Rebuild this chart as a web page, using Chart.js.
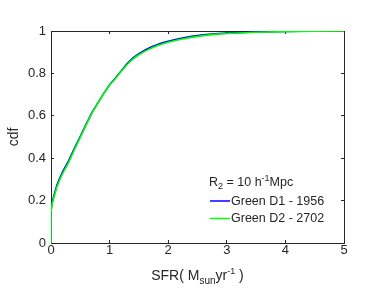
<!DOCTYPE html>
<html>
<head>
<meta charset="utf-8">
<script src="https://cdn.jsdelivr.net/npm/chart.js@4"></script>
<style>
  html, body { margin: 0; padding: 0; background: #fff; }
  #grafica { display: block; }
</style>
</head>
<body>
<canvas id="grafica" width="382" height="305"></canvas>
<script>
"use strict";

// SFR values (x) and cdf values
const sfrD1 = [0, 0, 0.02, 0.05, 0.1, 0.15, 0.2, 0.3, 0.4, 0.5, 0.6, 0.7, 0.8, 0.9, 1.0, 1.1, 1.2, 1.3, 1.4, 1.5, 1.6, 1.7, 1.8, 1.9, 2.0, 2.2, 2.4, 2.6, 2.8, 3.0, 3.5, 4.0, 4.56];
const cdfD1 = [0, 0.152, 0.192, 0.223, 0.272, 0.306, 0.337, 0.387, 0.447, 0.503, 0.561, 0.616, 0.661, 0.706, 0.746, 0.778, 0.813, 0.846, 0.873, 0.893, 0.909, 0.923, 0.934, 0.944, 0.952, 0.965, 0.975, 0.982, 0.987, 0.99, 0.995, 0.998, 1.0];

const sfrD2 = [0, 0, 0.02, 0.05, 0.1, 0.15, 0.2, 0.3, 0.4, 0.5, 0.6, 0.7, 0.8, 0.9, 1.0, 1.1, 1.2, 1.3, 1.4, 1.5, 1.6, 1.7, 1.8, 1.9, 2.0, 2.2, 2.4, 2.6, 2.8, 3.0, 3.5, 4.0, 4.5, 5.0];
const cdfD2 = [0, 0.145, 0.185, 0.215, 0.263, 0.298, 0.329, 0.379, 0.44, 0.498, 0.557, 0.613, 0.66, 0.705, 0.745, 0.776, 0.81, 0.842, 0.868, 0.888, 0.904, 0.918, 0.929, 0.939, 0.947, 0.96, 0.97, 0.978, 0.984, 0.988, 0.994, 0.997, 0.999, 1.0];

const nombres = ["Green D1 - 1956", "Green D2 - 2702"];
const colores = ["#0000ff", "#00ff00"];
const xTicks = [0, 1, 2, 3, 4, 5];
const yTicks = [0, 0.2, 0.4, 0.6, 0.8, 1];

const puntos = (xs, ys) => xs.map((x, i) => ({ x: x, y: ys[i] }));

const FUENTE = '"Liberation Sans", Arial, sans-serif';
const GRIS = "#262626";

function dibujarPartes(ctx, partes, x, y, centrado) {
    let ancho = 0;
    partes.forEach((p) => {
        ctx.font = p.s + "px " + FUENTE;
        ancho += ctx.measureText(p.t).width;
    });
    let cx = centrado ? x - ancho / 2 : x;
    ctx.textAlign = "left";
    ctx.textBaseline = "alphabetic";
    partes.forEach((p) => {
        ctx.font = p.s + "px " + FUENTE;
        ctx.fillText(p.t, cx, y + p.dy);
        cx += ctx.measureText(p.t).width;
    });
}

// axis titles and legend in MATLAB style
const textosMatlab = {
    id: "textosMatlab",
    afterDraw(chart) {
        const ctx = chart.ctx;
        const a = chart.chartArea;
        ctx.save();
        ctx.fillStyle = GRIS;

        ctx.save();
        ctx.translate(18, (a.top + a.bottom) / 2);
        ctx.rotate(-Math.PI / 2);
        ctx.textAlign = "center";
        ctx.textBaseline = "alphabetic";
        ctx.font = "14px " + FUENTE;
        ctx.fillText("cdf", 0, 0);
        ctx.restore();

        dibujarPartes(ctx, [
            { t: "SFR( M", s: 14, dy: 0 },
            { t: "sun", s: 10, dy: 4 },
            { t: "yr", s: 14, dy: 0 },
            { t: "-1", s: 9, dy: -6 },
            { t: " )", s: 14, dy: 0 },
        ], (a.left + a.right) / 2, 280, true);

        dibujarPartes(ctx, [
            { t: "R", s: 12.5, dy: 0 },
            { t: "2", s: 9, dy: 3 },
            { t: " = 10 h", s: 12.5, dy: 0 },
            { t: "-1", s: 9, dy: -5 },
            { t: "Mpc", s: 12.5, dy: 0 },
        ], 209, 186, false);

        nombres.forEach((n, i) => {
            const y = 201 + i * 17.5;
            ctx.strokeStyle = colores[i];
            ctx.lineWidth = 1.5;
            ctx.beginPath();
            ctx.moveTo(210, y);
            ctx.lineTo(230, y);
            ctx.stroke();
            ctx.fillStyle = GRIS;
            ctx.font = "12.5px " + FUENTE;
            ctx.textAlign = "left";
            ctx.textBaseline = "middle";
            ctx.fillText(n, 231, y + 0.5);
        });
        ctx.restore();
    },
};

const rejilla = { display: true, drawOnChartArea: false, drawTicks: true, tickLength: -3, color: GRIS, lineWidth: 1 };
const borde = { display: true, color: GRIS, width: 1 };

const lienzo = document.querySelector("#grafica");

new Chart(lienzo, {
    type: "line",
    data: {
        datasets: [
            { label: nombres[0], data: puntos(sfrD1, cdfD1), borderColor: colores[0], borderWidth: 1.6, pointRadius: 0, fill: false, tension: 0, order: 1 },
            { label: nombres[1], data: puntos(sfrD2, cdfD2), borderColor: colores[1], borderWidth: 1.6, pointRadius: 0, fill: false, tension: 0, order: 0 },
        ],
    },
    options: {
        responsive: false,
        animation: false,
        layout: { padding: { left: 0, top: 31, right: 38, bottom: 0 } },
        plugins: {
            legend: { display: false },
            tooltip: { enabled: false },
        },
        scales: {
            x: {
                type: "linear",
                min: 0,
                max: 5,
                afterBuildTicks: (s) => { s.ticks = xTicks.map((v) => ({ value: v })); },
                afterFit: (s) => { s.height = 62; },
                grid: rejilla,
                border: borde,
                ticks: { color: GRIS, font: { family: FUENTE, size: 13 }, padding: 3, maxRotation: 0, callback: (v) => String(v) },
            },
            x2: {
                type: "linear",
                position: "top",
                min: 0,
                max: 5,
                afterBuildTicks: (s) => { s.ticks = xTicks.map((v) => ({ value: v })); },
                afterFit: (s) => { s.height = 0; },
                grid: rejilla,
                border: borde,
                ticks: { display: false },
            },
            y: {
                min: 0,
                max: 1,
                afterBuildTicks: (s) => { s.ticks = yTicks.map((v) => ({ value: v })); },
                afterFit: (s) => { s.width = 51; },
                grid: rejilla,
                border: borde,
                ticks: { color: GRIS, font: { family: FUENTE, size: 13 }, padding: 8, callback: (v) => String(v) },
            },
            y2: {
                position: "right",
                min: 0,
                max: 1,
                afterBuildTicks: (s) => { s.ticks = yTicks.map((v) => ({ value: v })); },
                afterFit: (s) => { s.width = 0; },
                grid: rejilla,
                border: borde,
                ticks: { display: false },
            },
        },
    },
    plugins: [textosMatlab],
});
</script>
</body>
</html>
